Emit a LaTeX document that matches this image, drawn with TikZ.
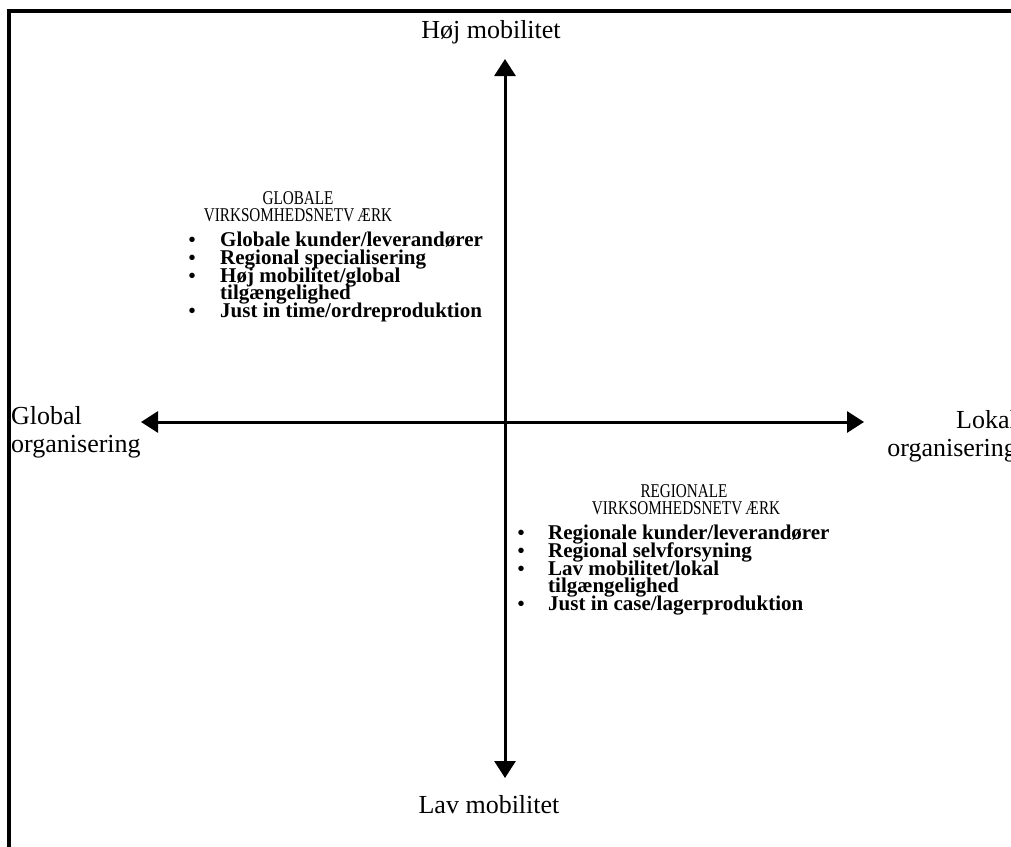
\documentclass[tikz,border=0pt]{standalone}
\usepackage{fontspec}
\setmainfont{Liberation Serif}
\newfontfamily\headfont{Liberation Serif}[FakeStretch=0.78]
\usetikzlibrary{arrows.meta, positioning}

\begin{document}
\begin{tikzpicture}[
        x=1pt, y=-1pt,
        axlabel/.style={font=\fontsize{26}{28}\selectfont, inner sep=0pt},
        heading/.style={font=\headfont\fontsize{19.5}{19}\selectfont, inner sep=0pt, anchor=base},
        item/.style={font=\fontsize{21}{18}\selectfont\bfseries, inner sep=0pt, anchor=base west},
        dot/.style={font=\fontsize{20}{18}\selectfont\bfseries, inner sep=0pt, anchor=base},
        axis/.style={line width=3pt, {Triangle[length=17pt,width=21pt]}-{Triangle[length=17pt,width=21pt]}}
    ]
    \useasboundingbox (0,0) rectangle (1011,846);

    % Frame
    \draw[line width=3.5pt] (9,900) -- (9,11) -- (1100,11);

    % Axes
    \coordinate (top) at (505,59);
    \coordinate (bottom) at (505,778);
    \coordinate (left) at (141,422);
    \coordinate (right) at (864,422);
    \draw[axis] (bottom) -- (top);
    \draw[axis] (left) -- (right);

    % Axis labels
    \node[axlabel, anchor=base] (high) at (491,38) {Høj mobilitet};
    \node[axlabel, anchor=base] (low) at (489,813) {Lav mobilitet};
    \node[axlabel, anchor=north west, align=left] (global) at (11,406) {Global\\organisering};
    \node[axlabel, anchor=north east, align=right] (local) at (1017,410) {Lokal\\organisering};

    % ================= Global =================
    \node[heading] (globA) at (298,204) {GLOBALE};
    \node[heading] (globB) at (298,221) {VIRKSOMHEDSNETV\,ÆRK};
    \node[item] (glob1) at (220,246) {Globale kunder/leverandører};
    \node[item] (glob2) at (220,264) {Regional specialisering};
    \node[item] (glob3) at (220,282) {Høj mobilitet/global};
    \node[item] (glob3b) at (220,299) {tilgængelighed};
    \node[item] (glob4) at (220,317) {Just in time/ordreproduktion};
    \foreach \y [count=\i] in {246,264,282,317}
        \node[dot] (gdot\i) at (192,\y) {•};

    % ================= Regional =================
    \node[heading] (regA) at (684,497) {REGIONALE};
    \node[heading] (regB) at (686,514) {VIRKSOMHEDSNETV\,ÆRK};
    \node[item] (reg1) at (548,539) {Regionale kunder/leverandører};
    \node[item] (reg2) at (548,557) {Regional selvforsyning};
    \node[item] (reg3) at (548,575) {Lav mobilitet/lokal};
    \node[item] (reg3b) at (548,592) {tilgængelighed};
    \node[item] (reg4) at (548,610) {Just in case/lagerproduktion};
    \foreach \y [count=\i] in {539,557,575,610}
        \node[dot] (rdot\i) at (521,\y) {•};

\end{tikzpicture}
\end{document}
